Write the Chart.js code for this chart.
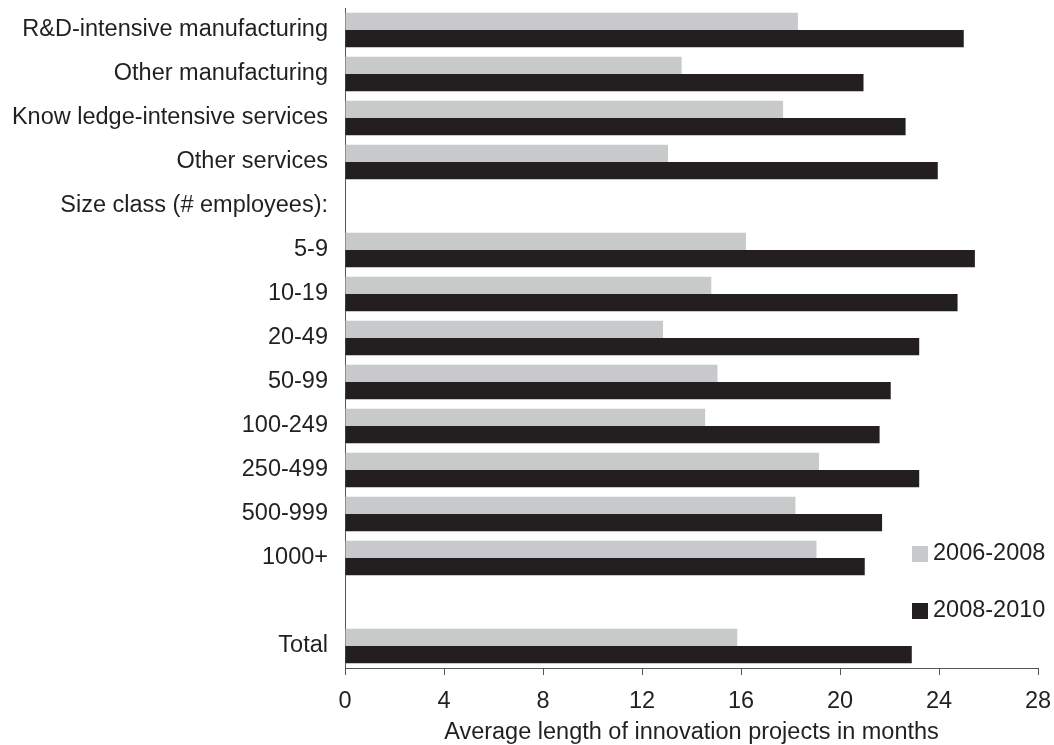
<!DOCTYPE html>
<html>
<head>
<meta charset="utf-8">
<title>Average length of innovation projects</title>
<script src="https://cdn.jsdelivr.net/npm/chart.js@4.4.1/dist/chart.umd.min.js"></script>
<style>
  html, body { margin: 0; padding: 0; background: #fff; }
  #wrap { width: 1054px; height: 745px; position: relative; }
</style>
</head>
<body>
<div id="wrap"><canvas id="chart"></canvas></div>
<script>
// categories top to bottom (the header row and the gap row have no bars)
const categories = [
  "R&D-intensive manufacturing",
  "Other manufacturing",
  "Know ledge-intensive services",
  "Other services",
  "Size class (# employees):",
  "5-9",
  "10-19",
  "20-49",
  "50-99",
  "100-249",
  "250-499",
  "500-999",
  "1000+",
  "",
  "Total"
];
const seriesNames = ["2006-2008", "2008-2010"];
const months0608 = [18.3, 13.6, 17.7, 13.05, null, 16.2, 14.8, 12.85, 15.05, 14.55, 19.15, 18.2, 19.05, null, 15.85];
const months0810 = [25.0, 20.95, 22.65, 23.95, null, 25.45, 24.75, 23.2, 22.05, 21.6, 23.2, 21.7, 21.0, null, 22.9];
const xTicks = [0, 4, 8, 12, 16, 20, 24, 28];

const ink = "#231f20";
const axisGrey = "#555555";
const fontSize = 23.5;

Chart.defaults.font.family = "'Liberation Sans', Arial, sans-serif";
Chart.defaults.font.size = fontSize;
Chart.defaults.color = ink;

// legend sits inside the plot, lower right, one entry per line
const sideLegend = {
  id: "sideLegend",
  afterDraw(chart) {
    const ctx = chart.ctx;
    ctx.save();
    ctx.font = fontSize + "px 'Liberation Sans', Arial, sans-serif";
    ctx.textBaseline = "middle";
    ctx.textAlign = "left";
    chart.data.datasets.forEach((ds, i) => {
      const y = 554 + i * 57;
      ctx.fillStyle = ds.backgroundColor;
      ctx.fillRect(912, y - 8, 16, 16);
      ctx.fillStyle = ink;
      ctx.fillText(ds.label, 933, y);
    });
    ctx.restore();
  }
};

new Chart(document.getElementById("chart"), {
  type: "bar",
  data: {
    labels: categories,
    datasets: [
      { label: seriesNames[0], data: months0608, backgroundColor: "#c8c9cb" },
      { label: seriesNames[1], data: months0810, backgroundColor: ink }
    ]
  },
  options: {
    indexAxis: "y",
    responsive: true,
    maintainAspectRatio: false,
    animation: false,
    layout: { padding: { top: 8, right: 16, left: 0, bottom: 0 } },
    datasets: { bar: { categoryPercentage: 0.78, barPercentage: 1.0, borderWidth: 0 } },
    plugins: {
      legend: { display: false },
      tooltip: { enabled: false }
    },
    scales: {
      x: {
        min: 0,
        max: 28,
        afterBuildTicks: s => { s.ticks = xTicks.map(v => ({ value: v })); },
        afterFit: s => { s.height = 77; s.paddingLeft = 0; s.paddingRight = 0; },
        grid: { display: true, drawOnChartArea: false, drawTicks: true, tickLength: 7, color: axisGrey },
        border: { display: true, color: axisGrey, width: 1 },
        ticks: { padding: 12, color: ink },
        title: {
          display: true,
          text: "Average length of innovation projects in months",
          color: ink,
          padding: { top: 0, bottom: -2 }
        }
      },
      y: {
        afterFit: s => { s.width = 345; s.paddingTop = 0; s.paddingBottom = 0; },
        grid: { display: false, drawTicks: false },
        border: { display: true, color: axisGrey, width: 1 },
        ticks: { autoSkip: false, padding: 17, color: ink }
      }
    }
  },
  plugins: [sideLegend]
});
</script>
</body>
</html>
